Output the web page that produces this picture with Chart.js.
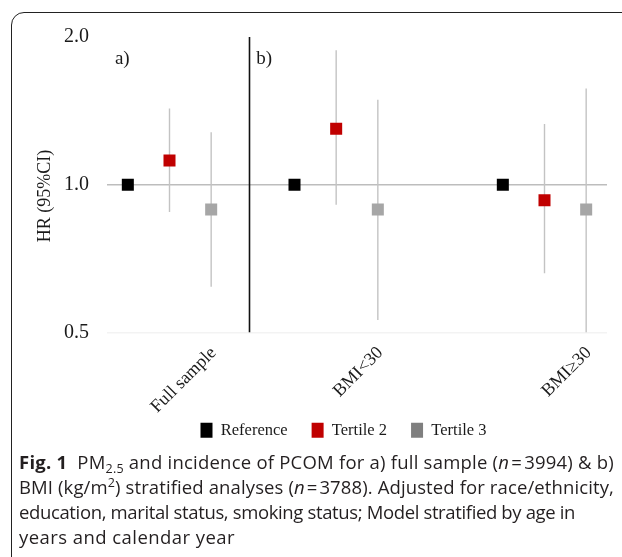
<!DOCTYPE html>
<html><head><meta charset="utf-8">
<script src="https://cdn.jsdelivr.net/npm/chart.js@4.4.1/dist/chart.umd.min.js"></script>
<style>
html,body{margin:0;padding:0;width:622px;height:557px;overflow:hidden;background:#fff;}
#frame{position:absolute;left:11px;top:12px;width:720px;height:720px;border:1.4px solid #222;border-radius:13px;box-sizing:border-box;}
#wrap{position:absolute;left:0;top:0;width:622px;height:480px;}
#cap{position:absolute;left:19px;top:449px;font-family:"Open Sans";font-size:18.5px;line-height:25px;color:#231f20;white-space:nowrap;}
#cap .ln{display:block;}
#cap sub{font-size:12.5px;line-height:0;vertical-align:-4px;}
#cap sup{font-size:12.5px;line-height:0;vertical-align:7px;}
</style></head><body>
<div id="frame"></div>
<div id="wrap"><canvas id="c" width="622" height="480"></canvas></div>
<div id="cap">
<span class="ln"><b>Fig. 1</b>&nbsp;&nbsp;PM<sub>2.5</sub> and incidence of PCOM for a) full sample (<i>n</i>&#8202;=&#8202;3994) &amp; b)</span>
<span class="ln">BMI (kg/m<sup>2</sup>) stratified analyses (<i>n</i>&#8202;=&#8202;3788). Adjusted for race/ethnicity,</span>
<span class="ln">education, marital status, smoking status; Model stratified by age in</span>
<span class="ln">years and calendar year</span>
</div>
<script>
// ---- data ----
const categories = ['Full sample', 'BMI<30', 'BMI\u226530'];
const seriesNames = ['Reference', 'Tertile 2', 'Tertile 3'];
const refHR = [1.00, 1.00, 1.00];
const t2HR  = [1.12, 1.30, 0.93];
const t2Lo  = [0.88, 0.91, 0.66];
const t2Hi  = [1.43, 1.88, 1.33];
const t3HR  = [0.89, 0.89, 0.89];
const t3Lo  = [0.62, 0.53, 0.50];
const t3Hi  = [1.28, 1.49, 1.57];
const yTicks = [0.5, 1.0, 2.0];
const panelLabels = ['a)', 'b)'];
const yTitle = 'HR (95%CI)';

// ---- layout constants ----
const groupStart = [0, 4, 9];   // slot of first marker of each group
const dividerX = 2.92;
const panelPos = [[-0.31, 1.80], [3.08, 1.80]];
const serif = 'Liberation Serif';
const plotBottom = 332.5;

const colors = ['#000000', '#c00000', '#a6a6a6'];
const legendColors = ['#000000', '#c00000', '#7f7f7f'];
const ciColor = '#c3c3c3';

const datasets = [];
categories.forEach((c, i) => {
  datasets.push({type:'line', label:'ci', data:[{x:groupStart[i]+1, y:t2Lo[i]}, {x:groupStart[i]+1, y:t2Hi[i]}],
    borderColor:ciColor, borderWidth:1.4, pointRadius:0, order:5});
  datasets.push({type:'line', label:'ci', data:[{x:groupStart[i]+2, y:t3Lo[i]}, {x:groupStart[i]+2, y:t3Hi[i]}],
    borderColor:ciColor, borderWidth:1.4, pointRadius:0, order:5});
});
datasets.push({type:'line', label:'div', data:[{x:dividerX, y:yTicks[0]}, {x:dividerX, y:yTicks[yTicks.length-1]}],
  borderColor:'#111', borderWidth:1.6, pointRadius:0, order:4});
const est = [refHR, t2HR, t3HR];
est.forEach((arr, s) => {
  datasets.push({type:'scatter', label:seriesNames[s],
    data: arr.map((v, i) => ({x: groupStart[i] + s, y: v})),
    pointStyle:'rect', pointRadius:8.5, pointHoverRadius:8.5, backgroundColor:colors[s], borderWidth:0, order:1});
});

const tickMap = {};
categories.forEach((c, i) => { tickMap[groupStart[i] + 2] = c; });

const extras = {
  id:'extras',
  afterLayout(chart){
    const lg = chart.legend;
    if (lg) {
      const dx = 40;
      lg.left += dx; lg.right += dx;
      const h = lg.height;
      lg.top = 398; lg.bottom = 398 + h;
    }
  },
  afterDatasetsDraw(chart){
    const {ctx, scales:{x, y}} = chart;
    ctx.save();
    ctx.font = '19px "' + serif + '"';
    ctx.fillStyle = '#1a1a1a';
    ctx.textBaseline = 'middle';
    ctx.textAlign = 'left';
    panelLabels.forEach((t, i) => {
      ctx.fillText(t, x.getPixelForValue(panelPos[i][0]), y.getPixelForValue(panelPos[i][1]));
    });
    ctx.translate(45, 196);
    ctx.rotate(-Math.PI / 2);
    ctx.textAlign = 'center';
    ctx.font = '18px "' + serif + '"';
    ctx.fillText(yTitle, 0, 0);
    ctx.restore();
  }
};

new Chart(document.getElementById('c'), {
  data: {datasets},
  options: {
    responsive:false, animation:false, devicePixelRatio:1,
    layout:{padding:{left:0, right:15, top:37, bottom:0}},
    plugins:{
      tooltip:{enabled:false},
      legend:{
        position:'bottom',
        labels:{
          font:{family:serif, size:16.5}, color:'#1a1a1a',
          boxWidth:12, boxHeight:15, padding:24,
          generateLabels:(chart) => seriesNames.map((n, s) => ({
            text:n, fillStyle:legendColors[s], strokeStyle:legendColors[s], lineWidth:0,
            hidden:false, datasetIndex: chart.data.datasets.findIndex(d => d.label === n), fontColor:'#1a1a1a'
          }))
        }
      }
    },
    scales:{
      x:{
        type:'linear', min:-0.5, max:11.5,
        afterBuildTicks:(s) => { s.ticks = categories.map((c, i) => ({value: groupStart[i] + 2.06})); },
        afterFit:(s) => {
          const lh = s.chart.legend ? s.chart.legend.height : 0;
          s.height = s.chart.height - lh - plotBottom;
        },
        ticks:{autoSkip:false, minRotation:45, maxRotation:45, padding:2,
          font:{family:serif, size:18}, color:'#1a1a1a',
          callback:(v) => tickMap[Math.round(v)] || ''},
        grid:{display:false}, border:{display:false}
      },
      y:{
        type:'logarithmic', min:0.5, max:2.0,
        afterBuildTicks:(s) => { s.ticks = yTicks.map(v => ({value:v})); },
        afterFit:(s) => { s.width = 107; },
        ticks:{padding:18, font:{family:serif, size:20}, color:'#1a1a1a',
          callback:(v) => Number(v).toFixed(1)},
        grid:{drawTicks:false, lineWidth:1.6,
          color:(ctx) => ctx.tick && ctx.tick.value === 1 ? '#bdbdbd' : (ctx.tick && ctx.tick.value === 0.5 ? '#f3f3f3' : 'rgba(0,0,0,0)')},
        border:{display:false}
      }
    }
  },
  plugins:[extras]
});

const targets = [595, 595, 556, 216];
document.fonts && document.fonts.ready.then(fit);
fit();
function fit(){
  document.querySelectorAll('#cap .ln').forEach((el, i) => {
    el.style.letterSpacing = '0px';
    el.style.display = 'inline-block';
    const w = el.getBoundingClientRect().width;
    const n = el.textContent.length;
    el.style.letterSpacing = ((targets[i] - w) / n).toFixed(3) + 'px';
    el.style.display = 'block';
  });
}
</script>
</body></html>
